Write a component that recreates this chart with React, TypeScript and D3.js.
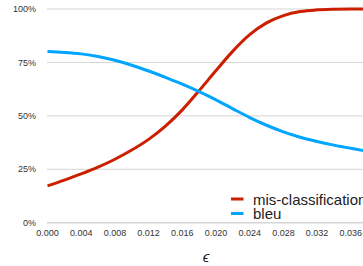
import React from "react";
import * as d3 from "d3";

const epsilons = [0, 0.002, 0.004, 0.006, 0.008, 0.01, 0.012, 0.014, 0.016, 0.018, 0.02, 0.022, 0.024, 0.026, 0.028, 0.03, 0.032, 0.034, 0.036, 0.038];
const misClassification = [17.2, 19.9, 22.8, 26.0, 29.7, 34.0, 39.0, 45.2, 52.8, 61.8, 71.2, 80.3, 88.0, 93.5, 96.9, 98.8, 99.6, 99.9, 100, 100];
const bleu = [80.1, 79.7, 79.0, 77.8, 76.0, 73.7, 71.0, 68.0, 64.8, 61.3, 57.5, 53.3, 49.2, 45.6, 42.5, 40.0, 38.0, 36.3, 34.8, 33.4];
const xTicks = [0, 0.004, 0.008, 0.012, 0.016, 0.02, 0.024, 0.028, 0.032, 0.036];
const yTicks = [0, 25, 50, 75, 100];
const seriesNames = ["mis-classification", "bleu"];
const colors = ["#cc1f00", "#00a5ff"];

export default function App() {
  const W = 363, H = 266;
  const x = d3.scaleLinear().domain([0, 0.036]).range([47.5, 350.8]);
  const y = d3.scaleLinear().domain([0, 100]).range([222.7, 9]);
  const line = d3.line<number>().x((_, i) => x(epsilons[i])).y(d => y(d)).curve(d3.curveMonotoneX);
  const font = "Liberation Sans, Arial, Helvetica, sans-serif";
  return (
    <svg width={W} height={H} style={{ position: "absolute", left: 0, top: 0 }} fontFamily={font}>
      {yTicks.map(t => (
        <g key={t}>
          <line x1={47} x2={W} y1={y(t)} y2={y(t)} stroke="#d4d4d4" strokeWidth={t === 0 ? 1.5 : 1} />
          <text x={36} y={y(t)} dy="0.35em" textAnchor="end" fontSize={9} fill="#333">{t}%</text>
        </g>
      ))}
      {xTicks.map(t => (
        <text key={t} x={x(t)} y={236} textAnchor="middle" fontSize={9} fill="#333">{t.toFixed(3)}</text>
      ))}
      <text x={206} y={262} textAnchor="middle" fontSize={15} fontStyle="italic" fill="#222">ϵ</text>
      {[misClassification, bleu].map((s, i) => (
        <path key={i} d={line(s) || ""} fill="none" stroke={colors[i]} strokeWidth={3} strokeLinejoin="round" />
      ))}
      {seriesNames.map((n, i) => (
        <g key={n}>
          <line x1={231} x2={243.5} y1={199 + i * 14.5} y2={199 + i * 14.5} stroke={colors[i]} strokeWidth={3} />
          <text x={253} y={204.5 + i * 14.8} fontSize={15} fill="#222">{n}</text>
        </g>
      ))}
    </svg>
  );
}
